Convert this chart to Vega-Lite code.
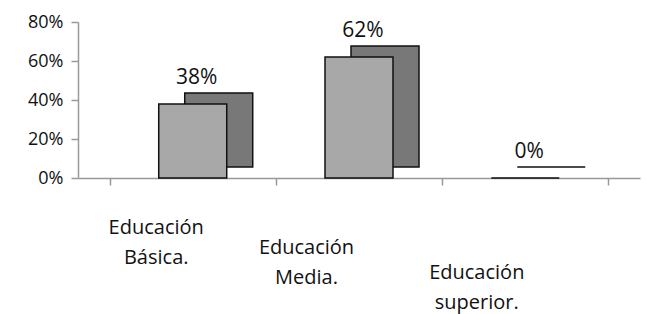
{
  "$schema": "https://vega.github.io/schema/vega-lite/v6.json",
  "width": 562,
  "height": 156,
  "autosize": {"type": "none"},
  "padding": {"left": 78, "top": 22, "right": 7, "bottom": 136},
  "background": "white",
  "config": {
    "view": {"stroke": null},
    "font": "Open Sans",
    "text": {"font": "Open Sans"}
  },
  "data": {
    "values": [
      {"nivel": "Educación Básica.", "pct": 0.38},
      {"nivel": "Educación Media.", "pct": 0.62},
      {"nivel": "Educación superior.", "pct": 0.0}
    ]
  },
  "encoding": {
    "x": {
      "field": "nivel",
      "type": "nominal",
      "sort": null,
      "scale": {"paddingInner": 0, "paddingOuter": 0.19},
      "axis": {
        "title": null,
        "labelAngle": 0,
        "labelExpr": "split(datum.label, ' ')",
        "labelFontSize": 20,
        "labelColor": "#111",
        "labelFont": "Open Sans",
        "labelLineHeight": 30,
        "labelBaseline": "top",
        "labelPadding": {"condition": [{"test": "datum.value == 'Educación Media.'", "value": 52}, {"test": "datum.value == 'Educación superior.'", "value": 77}], "value": 32},
        "labelOffset": {"condition": [{"test": "datum.value == 'Educación Media.'", "value": -53}, {"test": "datum.value == 'Educación superior.'", "value": -49}], "value": -37},
        "domainColor": "#999",
        "domainWidth": 1.5,
        "tickColor": "#999",
        "tickWidth": 1.5,
        "tickSize": 7,
        "tickBand": "extent"
      }
    },
    "y": {
      "field": "pct",
      "type": "quantitative",
      "scale": {"domain": [0, 0.8]},
      "axis": {
        "title": null,
        "format": ".0%",
        "values": [0, 0.2, 0.4, 0.6, 0.8],
        "grid": false,
        "labelFontSize": 18,
        "labelColor": "#111",
        "labelPadding": 8,
        "domainColor": "#999",
        "domainWidth": 1.5,
        "tickColor": "#999",
        "tickWidth": 1.5,
        "tickSize": 7
      }
    }
  },
  "layer": [
    {
      "mark": {"type": "bar", "size": 68, "xOffset": 26, "yOffset": -11, "color": "#787878", "stroke": "#111", "strokeWidth": 1.5}
    },
    {
      "mark": {"type": "bar", "size": 68, "color": "#a8a8a8", "stroke": "#111", "strokeWidth": 1.5}
    },
    {
      "mark": {"type": "text", "baseline": "alphabetic", "dy": -20, "dx": 4, "fontSize": 21, "color": "#111", "font": "Open Sans"},
      "encoding": {"text": {"field": "pct", "type": "quantitative", "format": ".0%"}}
    }
  ]
}
